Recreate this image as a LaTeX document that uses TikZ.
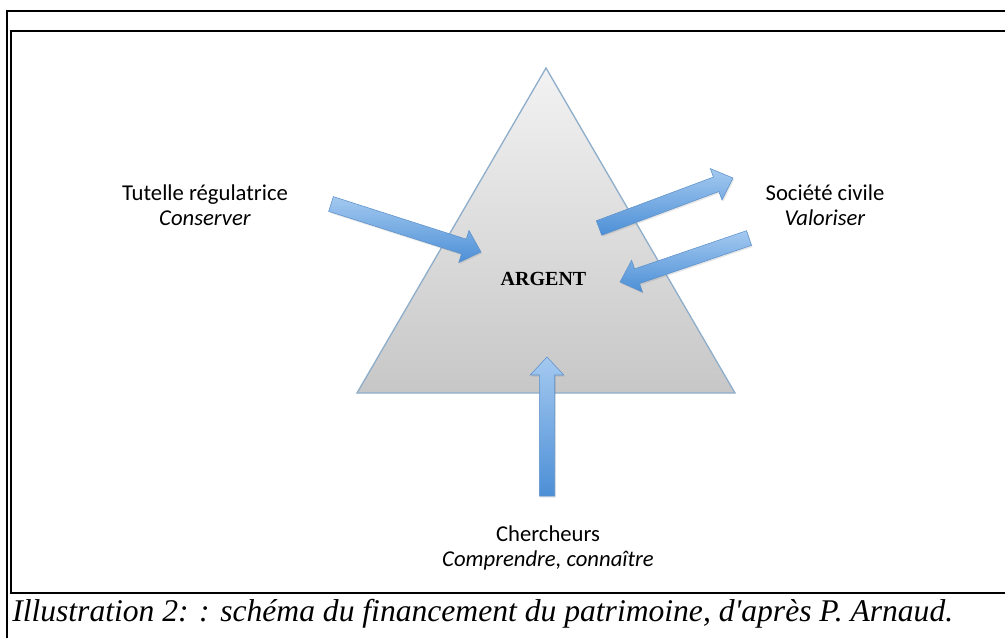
\documentclass[tikz,border=0pt]{standalone}
\usepackage{fontspec}
\setmainfont{Liberation Serif}
\newfontfamily\labelfont{Carlito}
\usetikzlibrary{calc,positioning,shadows}

\definecolor{edgeblue}{HTML}{8FAECB}
\definecolor{arrowlight}{HTML}{A4C9F0}
\definecolor{arrowdark}{HTML}{4C8FD6}
\definecolor{arrowline}{HTML}{5C90C9}

\tikzstyle{frame} = [line width=1.1pt, draw=black]
\tikzstyle{pyramid} = [draw=edgeblue, line width=1pt, top color=black!5, bottom color=black!22]
\tikzstyle{actor} = [align=center, font=\labelfont\fontsize{17}{18.5}\selectfont]
\tikzstyle{money} = [anchor=base, font=\bfseries\fontsize{15}{18}\selectfont]
\tikzstyle{flow} = [draw=arrowline, line width=0.4pt, top color=arrowlight, bottom color=arrowdark, drop shadow={shadow xshift=0.8pt, shadow yshift=-1.2pt, opacity=0.2}]
\tikzstyle{caption} = [anchor=base west, inner sep=0pt, font=\itshape\fontsize{23.7}{26}\selectfont]

\newcommand{\shafthw}{5.8pt}
\newcommand{\headhw}{12.6pt}
\newcommand{\headlen}{13.5pt}
\newcommand{\blockarrow}[2]{%
  \coordinate (#1-neck) at ($(#2)!\headlen!(#1)$);
  \path[flow] ($(#1)!\shafthw!90:(#2)$) -- ($(#1-neck)!\shafthw!-90:(#1)$)
    -- ($(#1-neck)!\headhw!-90:(#1)$) -- (#2) -- ($(#1-neck)!\headhw!90:(#1)$)
    -- ($(#1-neck)!\shafthw!90:(#1)$) -- ($(#1)!\shafthw!-90:(#2)$) -- cycle;
}

\begin{document}
\begin{tikzpicture}[x=0.75pt, y=-0.75pt]

\useasboundingbox (0,0) rectangle (1005,638);

\draw [frame] (7,638) -- (7,11) -- (1005,11);
\draw [frame] (1005,31) -- (11,31) -- (11,593) -- (1005,593);

\coordinate (apex) at (546,68);
\coordinate (baseL) at (357,393);
\coordinate (baseR) at (735,393);
\path [pyramid] (apex) -- (baseR) -- (baseL) -- cycle;

\node (argent) [money] at (543.5,285) {ARGENT};

\node (tutelle) [actor] at (205,205) {Tutelle régulatrice\\\textit{Conserver}};
\node (societe) [actor] at (825,205) {Société civile\\\textit{Valoriser}};
\node (chercheurs) [actor] at (548,548) {Chercheurs\\\textit{Comprendre, connaître}};

\coordinate (tutTail) at (331,204);
\coordinate (tutTip) at (481,252);
\coordinate (outTail) at (599,228);
\coordinate (outTip) at (733,178);
\coordinate (inTail) at (749,238);
\coordinate (inTip) at (620,282);
\coordinate (cheTail) at (547,496);
\coordinate (cheTip) at (547,357);

\blockarrow{tutTail}{tutTip}
\blockarrow{outTail}{outTip}
\blockarrow{inTail}{inTip}
\blockarrow{cheTail}{cheTip}

\node (legende) [caption] at (12,621) {Illustration 2: : schéma du financement du patrimoine, d\textquotesingle après P. Arnaud.};

\end{tikzpicture}
\end{document}
